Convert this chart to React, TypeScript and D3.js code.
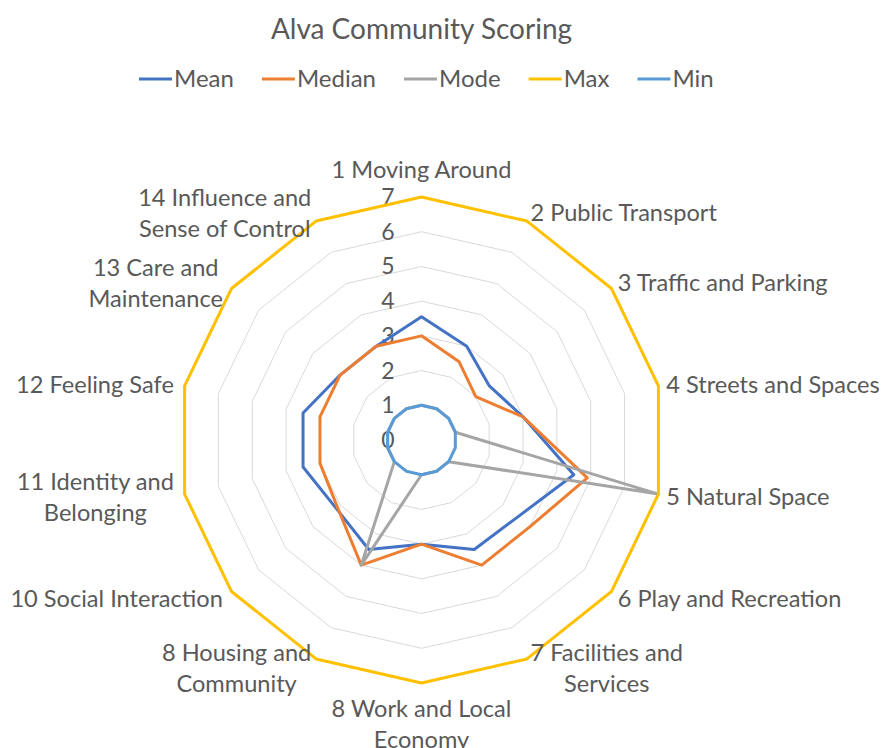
import React, { useEffect, useRef } from "react";
import * as d3 from "d3";

const title = "Alva Community Scoring";
const categories = [
  "1 Moving Around",
  "2 Public Transport",
  "3 Traffic and Parking",
  "4 Streets and Spaces",
  "5 Natural Space",
  "6 Play and Recreation",
  "7 Facilities and\nServices",
  "8 Work and Local\nEconomy",
  "8 Housing and\nCommunity",
  "10 Social Interaction",
  "11 Identity and\nBelonging",
  "12 Feeling Safe",
  "13 Care and\nMaintenance",
  "14 Influence and\nSense of Control",
];
const seriesNames = ["Mean", "Median", "Mode", "Max", "Min"];
const meanValues = [3.55, 3.0, 2.5, 3.0, 4.5, 3.55, 3.5, 3.0, 3.5, 3.15, 3.5, 3.5, 3.0, 3.0];
const medianValues = [3.0, 2.5, 2.0, 3.0, 4.9, 4.0, 4.0, 3.0, 4.0, 3.1, 3.0, 3.0, 3.0, 3.0];
const modeValues = [1, 1, 1, 1, 7, 1, 1, 1, 4, 1, 1, 1, 1, 1];
const maxValues = [7, 7, 7, 7, 7, 7, 7, 7, 7, 7, 7, 7, 7, 7];
const minValues = [1, 1, 1, 1, 1, 1, 1, 1, 1, 1, 1, 1, 1, 1];
const tickValues = [0, 1, 2, 3, 4, 5, 6, 7];
const seriesColors = ["#4472C4", "#ED7D31", "#A5A5A5", "#FFC000", "#5B9BD5"];

const W = 882;
const H = 748;
const CX = 421.5;
const CY = 440;
const RMAX = 243;
const FONT = "Lato, 'Open Sans', sans-serif";
const TEXT = "#595959";

export default function App() {
  const ref = useRef<SVGSVGElement | null>(null);

  useEffect(() => {
    const svg = d3.select(ref.current);
    svg.selectAll("*").remove();
    const n = categories.length;
    const r = d3.scaleLinear().domain([0, 7]).range([0, RMAX]);
    const ang = (i: number) => (i * 2 * Math.PI) / n;
    const g = svg.append("g").attr("transform", `translate(${CX},${CY})`);

    // grid
    const radial = d3
      .lineRadial<number>()
      .angle((_, i) => ang(i))
      .radius((d) => r(d))
      .curve(d3.curveLinearClosed);
    tickValues.filter((t) => t > 0).forEach((t) => {
      g.append("path")
        .attr("d", radial(categories.map(() => t)) as string)
        .attr("fill", "none")
        .attr("stroke", "#D9D9D9")
        .attr("stroke-width", 1);
    });

    // tick labels
    tickValues.forEach((t) => {
      g.append("text")
        .attr("x", -27)
        .attr("y", -r(t))
        .attr("dy", "0.35em")
        .attr("text-anchor", "end")
        .attr("font-family", FONT)
        .attr("font-size", 23)
        .attr("fill", TEXT)
        .text(String(t));
    });

    // series
    const allSeries = [meanValues, medianValues, modeValues, maxValues, minValues];
    allSeries.forEach((vals, si) => {
      g.append("path")
        .attr("d", radial(vals) as string)
        .attr("fill", "none")
        .attr("stroke", seriesColors[si])
        .attr("stroke-width", 3)
        .attr("stroke-linejoin", "round");
    });

    // category labels
    categories.forEach((c, i) => {
      const a = ang(i);
      const s = Math.sin(a);
      const co = Math.cos(a);
      const px = r(7) * s;
      const py = -r(7) * co;
      const lines = c.split("\n");
      const t = g
        .append("text")
        .attr("font-family", FONT)
        .attr("font-size", 23.6)
        .attr("fill", TEXT)
        .attr("text-anchor", "middle");
      lines.forEach((l, li) => {
        t.append("tspan").attr("x", 0).attr("y", li * 31).text(l);
      });
      const bb = (t.node() as SVGTextElement).getBBox();
      let cxl: number;
      let cyl: number;
      if (Math.abs(s) < 0.05) {
        cxl = px;
        cyl = co > 0 ? py - 14 - bb.height / 2 : py + 11 + bb.height / 2;
      } else if (s > 0) {
        cxl = px + 8 * s + bb.width / 2;
        cyl = py - co * 10;
      } else {
        cxl = px + 11 * s - bb.width / 2;
        cyl = py - co * 10;
      }
      const bcx = bb.x + bb.width / 2;
      const bcy = bb.y + bb.height / 2;
      t.attr("transform", `translate(${cxl - bcx},${cyl - bcy})`);
    });

    // title
    svg
      .append("text")
      .attr("x", CX)
      .attr("y", 29)
      .attr("dy", "0.35em")
      .attr("text-anchor", "middle")
      .attr("font-family", FONT)
      .attr("font-size", 28)
      .attr("fill", TEXT)
      .text(title);

    // legend
    let lx = 139;
    const ly = 79;
    seriesNames.forEach((name, si) => {
      svg
        .append("line")
        .attr("x1", lx)
        .attr("x2", lx + 33)
        .attr("y1", ly)
        .attr("y2", ly)
        .attr("stroke", seriesColors[si])
        .attr("stroke-width", 3);
      const tx = svg
        .append("text")
        .attr("x", lx + 35)
        .attr("y", ly)
        .attr("dy", "0.35em")
        .attr("font-family", FONT)
        .attr("font-size", 24)
        .attr("fill", TEXT)
        .text(name);
      const w = (tx.node() as SVGTextElement).getComputedTextLength();
      lx = lx + 35 + w + 28;
    });
  }, []);

  return (
    <div style={{ position: "absolute", left: 0, top: 0 }}>
      <svg ref={ref} width={W} height={H} style={{ display: "block", background: "#fff" }} />
    </div>
  );
}
